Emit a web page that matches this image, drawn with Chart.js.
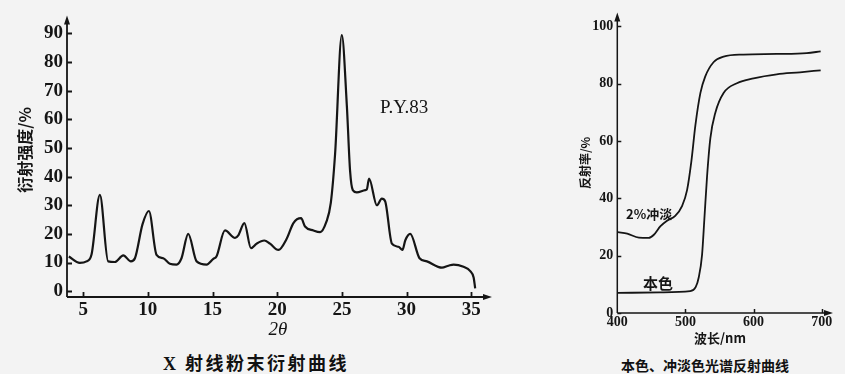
<!DOCTYPE html>
<html>
<head>
<meta charset="utf-8">
<script src="https://cdn.jsdelivr.net/npm/chart.js@4.4.1/dist/chart.umd.min.js"></script>
<style>
body{margin:0;background:#f3f3f3;width:845px;height:374px;position:relative;overflow:hidden;}
#xrdChart{position:absolute;left:0;top:0;}
#reflChart{position:absolute;left:560px;top:0;}
.cap{position:absolute;transform:translateX(-50%);white-space:nowrap;color:#111;font-family:"Noto Sans CJK SC";font-weight:700;}
</style>
</head>
<body>
<canvas id="xrdChart" width="500" height="345"></canvas>
<canvas id="reflChart" width="285" height="345"></canvas>
<div class="cap" style="left:256px;top:349px;font-size:18px;letter-spacing:2.5px;"><span style="font-family:'Liberation Serif'">X</span> 射线粉末衍射曲线</div>
<div class="cap" style="left:705px;top:355px;font-size:14px;">本色、冲淡色光谱反射曲线</div>
<script>

/* X射线衍射 */
const xrdAngle = [3.89,4.74,5.26,5.64,6.29,6.93,7.45,8.1,8.69,9.0,9.59,10.08,10.67,11.19,11.7,12.22,12.6,13.12,13.77,14.54,15.06,15.3,15.96,16.74,16.99,17.46,17.97,18.41,19.0,19.44,20.09,20.73,21.25,21.84,22.15,22.8,23.31,23.78,24.14,24.47,24.99,25.38,25.63,25.84,26.15,26.8,26.92,27.1,27.7,28.08,28.34,28.86,29.37,29.68,29.9,30.28,31.0,31.57,32.73,33.24,33.63,34.4,34.92,35.18,35.3];
const xrdIntensity = [12.1,9.9,10.4,12.7,33.6,10.4,10.2,12.5,10.4,11.5,23.4,28,12.7,11.5,9.6,9.3,11.5,20,10.4,9.3,11.3,12.1,21.2,18.6,19.5,23.8,15,16.6,17.7,16.6,14.4,18.3,23.8,25.5,22.6,21.2,20.6,24,30.8,47.8,89.4,64.8,42,35.3,34.5,35.3,35.5,39.3,30,32.3,31.4,16.6,15.5,14.4,17.8,20,11.5,10.4,8.2,8.9,9.3,8.5,7.0,4.8,1.0];
const xrdXTicks = [5,10,15,20,25,30,35];
const xrdYTicks = [0,10,20,30,40,50,60,70,80,90];

/* 反射曲线 */
const baseWave = [401,463,507,515,519.5,524.4,527.8,531.7,536.6,544,556,575.6,600,634,668,698.5];
const baseRefl = [7.0,7.2,7.6,9,12.4,20.3,32.8,47.5,61,70,76.8,80.2,81.9,83.3,84,84.7];
const tintWave = [401,414.6,431.7,446,453.7,463.4,473,485,495,502.4,508.8,514.6,522,529,541.5,556,585,634,678,698.5];
const tintRefl = [28.2,27.7,26.3,26.2,27.3,30.3,32.2,33.9,37.3,42.9,53.1,65.5,76.8,82.5,87.6,89.5,90.2,90.4,90.7,91.3];
const reflXTicks = [400,500,600,700];
const reflYTicks = [0,20,40,60,80,100];

const ink = "#151515";

const axesPlugin = {
id:"axes",
afterDraw(chart, args, o){
const ctx = chart.ctx;
const a = chart.chartArea;
const x = chart.scales.x, y = chart.scales.y;
ctx.save();
ctx.strokeStyle = ink;
ctx.fillStyle = ink;
ctx.lineWidth = o.lw;
ctx.beginPath();
ctx.moveTo(a.left, a.bottom); ctx.lineTo(a.left, a.top + 6);
ctx.moveTo(a.left, a.bottom); ctx.lineTo(a.right - 6, a.bottom);
o.yTicks.forEach(v=>{
const py = Math.round(y.getPixelForValue(v)) + 0.5;
ctx.moveTo(a.left, py); ctx.lineTo(a.left + o.tl, py);
});
o.xTicks.forEach(v=>{
if(v === x.min) return;
const px = Math.round(x.getPixelForValue(v)) + 0.5;
ctx.moveTo(px, a.bottom); ctx.lineTo(px, a.bottom - o.tl);
});
ctx.stroke();
/* стрілки */
ctx.beginPath();
ctx.moveTo(a.left, a.top); ctx.lineTo(a.left - 3, a.top + 9); ctx.lineTo(a.left + 3, a.top + 9); ctx.closePath();
ctx.moveTo(a.right, a.bottom); ctx.lineTo(a.right - 9, a.bottom - 3); ctx.lineTo(a.right - 9, a.bottom + 3); ctx.closePath();
ctx.fill();
/* підписи */
o.texts.forEach(t=>{
ctx.font = t.font;
ctx.textAlign = t.align || "center";
ctx.textBaseline = "middle";
let px = t.px, py = t.py;
if(t.dx !== undefined) px = x.getPixelForValue(t.dx);
if(t.dy !== undefined) py = y.getPixelForValue(t.dy);
ctx.save();
ctx.translate(px, py);
if(t.rot) ctx.rotate(-Math.PI/2);
ctx.fillText(t.text, 0, 0);
ctx.restore();
});
ctx.restore();
}
};

function fixTicks(list){
return function(scale){ scale.ticks = list.map(v=>({value:v})); };
}

new Chart(document.getElementById("xrdChart"),{
type:"line",
data:{
datasets:[{
data:xrdAngle.map((v,i)=>({x:v,y:xrdIntensity[i]})),
borderColor:ink,
borderWidth:2.2,
pointRadius:0,
cubicInterpolationMode:"monotone",
fill:false
}]
},
options:{
responsive:false,
animation:false,
layout:{autoPadding:false,padding:{left:0,right:8,top:7,bottom:0}},
plugins:{
legend:{display:false},
tooltip:{enabled:false},
axes:{
lw:1.8, tl:5,
xTicks:xrdXTicks, yTicks:xrdYTicks,
texts:[
{text:"P.Y.83", dx:27.95, dy:64, align:"left", font:"19px 'Liberation Serif'"},
{text:"2θ", px:278, py:330, font:"italic 19px 'Liberation Serif'"},
{text:"衍射强度/%", px:25, py:150, rot:true, font:"bold 16px 'Noto Sans CJK SC'"}
]
}
},
scales:{
x:{
type:"linear", min:3.75, max:36.6,
afterBuildTicks:fixTicks(xrdXTicks),
afterFit(s){ s.height = 48; },
grid:{display:false,drawTicks:false},
border:{display:false},
ticks:{color:ink,padding:2,maxRotation:0,font:{family:"Liberation Serif",size:19,weight:"bold"}}
},
y:{
type:"linear", min:-2.03, max:96.3,
afterBuildTicks:fixTicks(xrdYTicks),
afterFit(s){ s.width = 67; },
grid:{display:false,drawTicks:false},
border:{display:false},
ticks:{color:ink,padding:4,font:{family:"Liberation Serif",size:19,weight:"bold"}}
}
}
},
plugins:[axesPlugin]
});

new Chart(document.getElementById("reflChart"),{
type:"line",
data:{
datasets:[{
data:tintWave.map((v,i)=>({x:v,y:tintRefl[i]})),
borderColor:ink,
borderWidth:1.8,
pointRadius:0,
cubicInterpolationMode:"monotone",
fill:false
},{
data:baseWave.map((v,i)=>({x:v,y:baseRefl[i]})),
borderColor:ink,
borderWidth:1.8,
pointRadius:0,
cubicInterpolationMode:"monotone",
fill:false
}]
},
options:{
responsive:false,
animation:false,
layout:{autoPadding:false,padding:{left:0,right:12,top:4,bottom:0}},
plugins:{
legend:{display:false},
tooltip:{enabled:false},
axes:{
lw:1.5, tl:4,
xTicks:reflXTicks, yTicks:reflYTicks,
texts:[
{text:"2%冲淡", dx:412.8, dy:34.6, align:"left", font:"bold 13px 'Noto Sans CJK SC'"},
{text:"本色", dx:437.7, dy:10.2, align:"left", font:"bold 15px 'Noto Sans CJK SC'"},
{text:"波长/nm", px:160, py:338, font:"bold 13px 'Noto Sans CJK SC'"},
{text:"反射率/%", px:25, py:163, rot:true, font:"bold 12px 'Noto Sans CJK SC'"}
]
}
},
scales:{
x:{
type:"linear", min:400, max:716.6,
afterBuildTicks:fixTicks(reflXTicks),
afterFit(s){ s.height = 32; },
grid:{display:false,drawTicks:false},
border:{display:false},
ticks:{color:ink,padding:1,maxRotation:0,font:{family:"Liberation Serif",size:14,weight:"bold"}}
},
y:{
type:"linear", min:0, max:104.9,
afterBuildTicks:fixTicks(reflYTicks),
afterFit(s){ s.width = 57.3; },
grid:{display:false,drawTicks:false},
border:{display:false},
ticks:{color:ink,padding:4,font:{family:"Liberation Serif",size:14,weight:"bold"}}
}
}
},
plugins:[axesPlugin]
});

</script>
</body>
</html>
